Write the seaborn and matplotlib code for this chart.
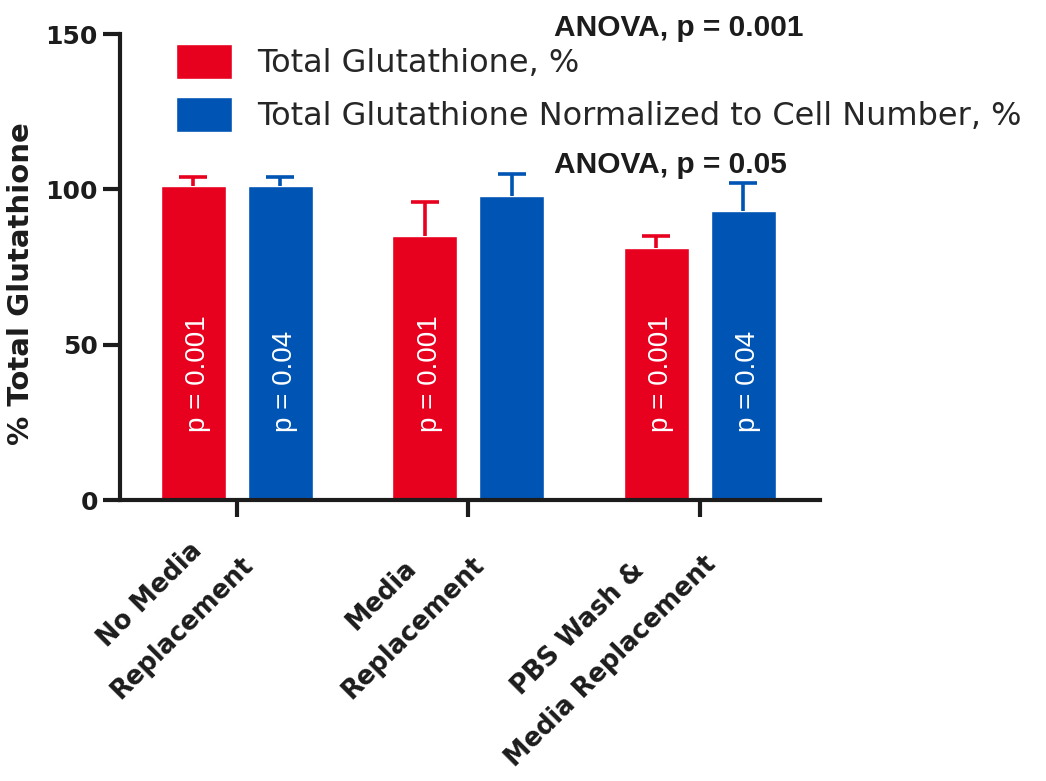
import matplotlib
matplotlib.use("Agg")
import matplotlib.pyplot as plt
import matplotlib.transforms as mtransforms
import pandas as pd
import seaborn as sns

# Conditions and series
conditions = ["No Media\nReplacement", "Media\nReplacement", "PBS Wash &\nMedia Replacement"]
series_names = ["Total Glutathione, %", "Total Glutathione Normalized to Cell Number, %"]

# Mean values and upper error (same order as conditions)
total_gsh = [101, 85, 81]
total_gsh_err = [3, 11, 4]
normalized_gsh = [101, 98, 93]
normalized_gsh_err = [3, 7, 9]

# In-bar p-values (per series, per condition)
total_pvals = ["p = 0.001", "p = 0.001", "p = 0.001"]
normalized_pvals = ["p = 0.04", "", "p = 0.04"]

anova_labels = ["ANOVA, p = 0.001", "ANOVA, p = 0.05"]
y_ticks = [0, 50, 100, 150]
y_label = "% Total Glutathione"

colors = ["#E8001F", "#0054B4"]
axis_color = "#1c1c1c"
wide_font = ["DejaVu Sans"]
narrow_font = ["Liberation Sans", "DejaVu Sans"]

df = pd.DataFrame({
    "condition": conditions * 2,
    "series": [series_names[0]] * 3 + [series_names[1]] * 3,
    "value": total_gsh + normalized_gsh,
})
errors = total_gsh_err + normalized_gsh_err
pvals = total_pvals + normalized_pvals

sns.set_style("ticks")
plt.rcParams["font.family"] = narrow_font

W, H = 1046, 781
fig = plt.figure(figsize=(W / 100, H / 100), dpi=100)
ax = fig.add_axes([120 / W, 1 - 500 / H, 700 / W, 466 / H])

sns.barplot(
    data=df, x="condition", y="value", hue="series",
    order=conditions, hue_order=series_names, palette=colors,
    width=0.75, gap=0.25, errorbar=None, saturation=1, ax=ax,
)

# Upper-only error bars and white p-value annotations on each bar
bars = ax.patches[:6]
for i, bar in enumerate(bars):
    s = i // 3
    xc = bar.get_x() + bar.get_width() / 2
    top = bar.get_height()
    _, caps, _ = ax.errorbar([xc], [top], yerr=[[0], [errors[i]]], fmt="none",
                             ecolor=colors[s], elinewidth=2.6, capsize=10.4,
                             capthick=2.6, zorder=1)
    caps[0].set_visible(False)
    if pvals[i]:
        ax.text(xc + 0.02, 21.9, pvals[i], rotation=90, ha="center", va="bottom",
                color="white", fontsize=20, family=narrow_font)

ax.set_xlim(-0.505, 2.52)
ax.set_ylim(0, 150)
ax.set_yticks(y_ticks)
ax.set_yticklabels([str(t) for t in y_ticks], fontsize=18, fontweight="bold",
                   color=axis_color, family=wide_font)

for side in ("top", "right"):
    ax.spines[side].set_visible(False)
for side in ("left", "bottom"):
    ax.spines[side].set_linewidth(3)
    ax.spines[side].set_color(axis_color)
ax.tick_params(axis="both", length=12, width=3, color=axis_color, direction="out")
ax.tick_params(axis="y", pad=4)

ax.set_xlabel("")
ax.set_ylabel(y_label, fontsize=21, fontweight="bold", color=axis_color,
              family=wide_font)
ax.yaxis.set_label_coords(-0.121, 0.4635)

ax.set_xticks(range(len(conditions)))
ax.set_xticklabels(conditions, fontsize=18.5, fontweight="bold", color=axis_color,
                   rotation=45, ha="right", va="top", rotation_mode="anchor",
                   multialignment="center", linespacing=2.0, family=wide_font)
shift = mtransforms.ScaledTranslation(-29 / 100, 3 / 100, fig.dpi_scale_trans)
for lab in ax.get_xticklabels():
    lab.set_transform(lab.get_transform() + shift)

handles, labels = ax.get_legend_handles_labels()
ax.legend(handles, labels, loc="upper left",
          bbox_to_anchor=(176 / W, 1 - 44 / H), bbox_transform=fig.transFigure,
          frameon=False, prop={"family": wide_font, "size": 23},
          handlelength=1.75, handleheight=1.3, handletextpad=0.78,
          labelspacing=0.55, borderpad=0, borderaxespad=0)

fig.text(554 / W, 1 - 36 / H, anova_labels[0], ha="left", va="baseline",
         fontsize=21.5, fontweight="bold", color=axis_color, family=narrow_font)
fig.text(554 / W, 1 - 173 / H, anova_labels[1], ha="left", va="baseline",
         fontsize=21.5, fontweight="bold", color=axis_color, family=narrow_font)

fig.savefig("out.png", dpi=100, facecolor="white")
